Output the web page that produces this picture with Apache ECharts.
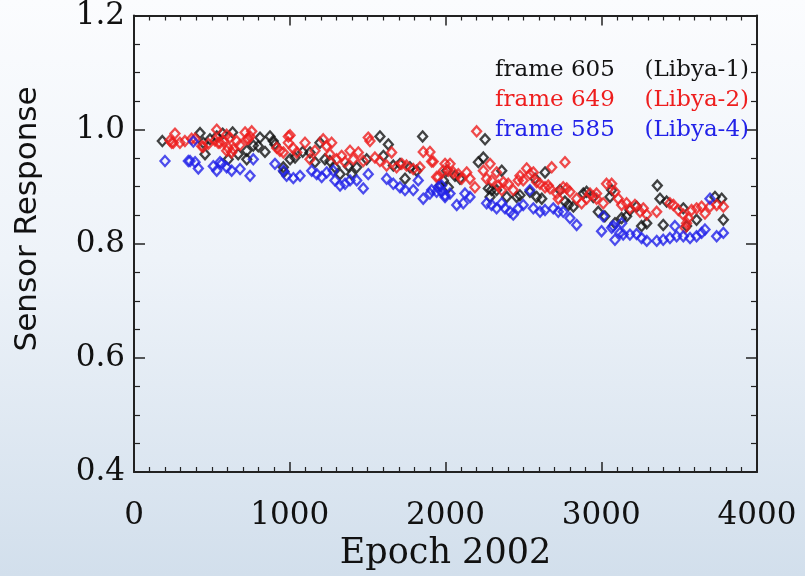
<!DOCTYPE html>
<html>
<head>
<meta charset="utf-8">
<script src="https://cdn.jsdelivr.net/npm/echarts@6/dist/echarts.min.js"></script>
<style>
  html, body { margin: 0; padding: 0; }
  body { width: 805px; height: 576px; background: linear-gradient(to bottom, #fbfcfe 0%, #eef3f9 45%, #d2dfec 100%); }
  #chart { width: 805px; height: 576px; }
</style>
</head>
<body>
<div id="chart"></div>
<script>
// Sensor response of three Libya desert frames versus epoch (days since 2002)
const xTicks = ['0', '1000', '2000', '3000', '4000'];
const yTicks = ['0.4', '0.6', '0.8', '1.0', '1.2'];

const seriesNames = ['frame 605', 'frame 649', 'frame 585'];
const siteNames = ['(Libya-1)', '(Libya-2)', '(Libya-4)'];
const seriesColors = ['#141414', '#ee1e1e', '#2222e8'];

// frame 605 (Libya-1): [epoch, response]
const frame605 = [
  [182,0.980],[424,0.994],[445,0.977],[456,0.957],[488,0.983],[531,0.988],[569,0.993],[605,0.948],
  [633,0.995],[669,0.957],[724,0.963],[724,0.948],[766,0.972],[798,0.971],[809,0.986],[841,0.961],
  [873,0.988],[894,0.980],[905,0.974],[959,0.934],[963,0.926],[1002,0.948],[1034,0.951],[1083,0.961],
  [1130,0.960],[1162,0.943],[1194,0.977],[1226,0.948],[1258,0.945],[1290,0.934],[1323,0.922],[1376,0.936],
  [1397,0.922],[1430,0.934],[1494,0.948],[1579,0.988],[1601,0.954],[1633,0.974],[1665,0.937],[1708,0.940],
  [1740,0.914],[1772,0.934],[1815,0.928],[1853,0.988],[1965,0.902],[1986,0.911],[2008,0.928],[2018,0.899],
  [2061,0.919],[2093,0.914],[2211,0.943],[2243,0.951],[2254,0.983],[2275,0.897],[2286,0.882],[2296,0.894],
  [2328,0.894],[2361,0.928],[2393,0.882],[2457,0.882],[2478,0.885],[2542,0.891],[2575,0.914],[2585,0.882],
  [2618,0.879],[2639,0.925],[2735,0.894],[2767,0.874],[2789,0.868],[2821,0.865],[2885,0.888],[2906,0.891],
  [2949,0.882],[2981,0.856],[3023,0.848],[3056,0.882],[3067,0.894],[3088,0.836],[3131,0.845],[3163,0.848],
  [3184,0.859],[3227,0.865],[3259,0.831],[3292,0.836],[3360,0.902],[3377,0.879],[3398,0.833],[3420,0.874],
  [3527,0.862],[3548,0.831],[3612,0.842],[3730,0.882],[3773,0.879],[3784,0.842]
];

// frame 649 (Libya-2)
const frame649 = [
  [231,0.981],[242,0.977],[252,0.977],[263,0.993],[295,0.977],[327,0.980],[370,0.984],[392,0.984],
  [435,0.971],[445,0.970],[477,0.975],[520,0.981],[531,1.000],[541,0.977],[552,0.977],[573,0.980],
  [595,0.991],[595,0.963],[605,0.968],[616,0.986],[627,0.960],[637,0.966],[659,0.980],[681,0.973],
  [713,0.995],[724,0.983],[734,0.984],[745,0.988],[756,0.997],[916,0.968],[937,0.963],[959,0.960],
  [991,0.988],[991,0.977],[1002,0.990],[1023,0.967],[1045,0.960],[1098,0.977],[1130,0.948],[1162,0.963],
  [1215,0.983],[1237,0.971],[1258,0.957],[1269,0.977],[1301,0.948],[1333,0.954],[1355,0.943],[1387,0.963],
  [1408,0.948],[1440,0.960],[1472,0.945],[1504,0.986],[1515,0.980],[1547,0.951],[1579,0.945],[1622,0.937],
  [1654,0.960],[1686,0.934],[1719,0.940],[1750,0.937],[1793,0.931],[1836,0.934],[1857,0.961],[1900,0.961],
  [1911,0.944],[1921,0.944],[1943,0.917],[1954,0.917],[1986,0.928],[1997,0.940],[2018,0.928],[2029,0.940],
  [2050,0.925],[2082,0.922],[2104,0.914],[2136,0.925],[2157,0.914],[2189,0.899],[2200,0.997],[2243,0.928],
  [2264,0.914],[2286,0.940],[2296,0.911],[2328,0.925],[2339,0.902],[2361,0.894],[2371,0.908],[2403,0.905],
  [2435,0.894],[2467,0.911],[2478,0.919],[2499,0.911],[2521,0.932],[2542,0.922],[2564,0.925],[2585,0.908],
  [2607,0.905],[2639,0.899],[2660,0.902],[2671,0.897],[2682,0.934],[2714,0.888],[2724,0.879],[2756,0.899],
  [2767,0.943],[2778,0.897],[2799,0.891],[2842,0.879],[2874,0.871],[2906,0.879],[2928,0.888],[2970,0.879],
  [2970,0.888],[3013,0.871],[3034,0.905],[3067,0.905],[3088,0.891],[3109,0.879],[3131,0.868],[3163,0.871],
  [3184,0.862],[3216,0.868],[3249,0.856],[3270,0.862],[3292,0.851],[3356,0.856],[3441,0.871],[3463,0.868],
  [3495,0.859],[3527,0.851],[3538,0.828],[3548,0.836],[3559,0.845],[3580,0.859],[3612,0.862],[3644,0.865],
  [3666,0.853],[3698,0.865],[3741,0.868],[3784,0.865]
];

// frame 585 (Libya-4)
const frame585 = [
  [199,0.945],[349,0.945],[360,0.945],[381,0.979],[392,0.943],[413,0.932],[509,0.936],[531,0.928],
  [552,0.943],[563,0.940],[595,0.934],[627,0.928],[681,0.931],[745,0.919],[766,0.948],[905,0.940],
  [959,0.928],[980,0.919],[1023,0.915],[1066,0.919],[1141,0.928],[1173,0.922],[1205,0.917],[1237,0.925],
  [1279,0.928],[1290,0.911],[1323,0.902],[1355,0.905],[1387,0.911],[1430,0.911],[1472,0.897],[1504,0.922],
  [1622,0.914],[1665,0.905],[1708,0.899],[1740,0.894],[1793,0.894],[1825,0.911],[1857,0.879],[1900,0.888],
  [1911,0.894],[1943,0.891],[1954,0.899],[1975,0.902],[1975,0.891],[1997,0.885],[1997,0.882],[2029,0.888],
  [2072,0.868],[2114,0.871],[2125,0.888],[2157,0.882],[2264,0.871],[2296,0.868],[2328,0.862],[2361,0.871],
  [2382,0.862],[2414,0.856],[2435,0.851],[2467,0.862],[2499,0.868],[2542,0.894],[2564,0.862],[2607,0.856],
  [2639,0.859],[2692,0.862],[2724,0.856],[2756,0.856],[2799,0.845],[2842,0.833],[3002,0.822],[3013,0.848],
  [3067,0.828],[3077,0.831],[3088,0.807],[3120,0.819],[3131,0.836],[3141,0.816],[3184,0.816],[3227,0.817],
  [3259,0.810],[3292,0.805],[3356,0.805],[3398,0.807],[3441,0.810],[3473,0.831],[3484,0.813],[3527,0.813],
  [3570,0.810],[3612,0.813],[3644,0.819],[3666,0.825],[3698,0.879],[3741,0.813],[3784,0.819]
];

const seriesData = [frame605, frame649, frame585];

const axisColor = '#222';
const tickFont = 'DejaVu Serif';

function xAxisDef(pos, showLabels) {
  return {
    type: 'value', position: pos, min: 0, max: 4000, interval: 1000,
    axisLine: { show: true, onZero: false, lineStyle: { color: axisColor, width: 2 } },
    axisTick: { show: true, inside: true, length: 10, lineStyle: { color: axisColor, width: 1.5 } },
    minorTick: { show: true, splitNumber: 10, length: 5, lineStyle: { color: axisColor, width: 1.2 } },
    splitLine: { show: false },
    axisLabel: {
      show: showLabels, margin: 28, color: '#111',
      fontFamily: tickFont, fontSize: 31,
      formatter: v => xTicks[Math.round(v / 1000)]
    },
    name: showLabels ? 'Epoch 2002' : '', nameLocation: 'middle', nameGap: 64,
    nameTextStyle: { fontFamily: tickFont, fontSize: 35, color: '#111' }
  };
}

function yAxisDef(pos, showLabels) {
  return {
    type: 'value', position: pos, min: 0.4, max: 1.2, interval: 0.2,
    axisLine: { show: true, onZero: false, lineStyle: { color: axisColor, width: 2 } },
    axisTick: { show: true, inside: true, length: 11, lineStyle: { color: axisColor, width: 1.5 } },
    minorTick: { show: true, splitNumber: 4, length: 6, lineStyle: { color: axisColor, width: 1.2 } },
    splitLine: { show: false },
    axisLabel: {
      show: showLabels, margin: 9, color: '#111',
      fontFamily: tickFont, fontSize: 31,
      formatter: v => yTicks[Math.round((v - 0.4) / 0.2)]
    }
  };
}

const chart = echarts.init(document.getElementById('chart'), null, { renderer: 'canvas' });

const overlay = [];
const legendRowsY = [70, 100, 130];
seriesNames.forEach((n, i) => {
  overlay.push({
    type: 'text', x: 495, y: legendRowsY[i], z: 10,
    style: { text: n, fill: seriesColors[i], font: '23px "DejaVu Serif"', align: 'left', verticalAlign: 'middle' }
  });
  overlay.push({
    type: 'text', x: 749, y: legendRowsY[i], z: 10,
    style: { text: siteNames[i], fill: seriesColors[i], font: '23px "DejaVu Serif"', align: 'right', verticalAlign: 'middle' }
  });
});
// vertical axis title
overlay.push({
  type: 'text', x: 28, y: 219, rotation: Math.PI / 2, z: 10,
  style: { text: 'Sensor Response', fill: '#111', font: '31px "DejaVu Sans"', align: 'center', verticalAlign: 'middle' }
});

chart.setOption({
  backgroundColor: 'transparent',
  animation: false,
  grid: { left: 134, right: 48, top: 14, bottom: 98 },
  xAxis: [xAxisDef('bottom', true), xAxisDef('top', false)],
  yAxis: [yAxisDef('left', true), yAxisDef('right', false)],
  graphic: overlay,
  series: seriesData.map((d, i) => ({
    name: seriesNames[i] + '  ' + siteNames[i],
    type: 'scatter',
    symbol: 'diamond',
    symbolSize: [9, 10],
    data: d,
    itemStyle: { color: 'rgba(0,0,0,0)', borderColor: seriesColors[i], borderWidth: 2.3 }
  }))
});
</script>
</body>
</html>
